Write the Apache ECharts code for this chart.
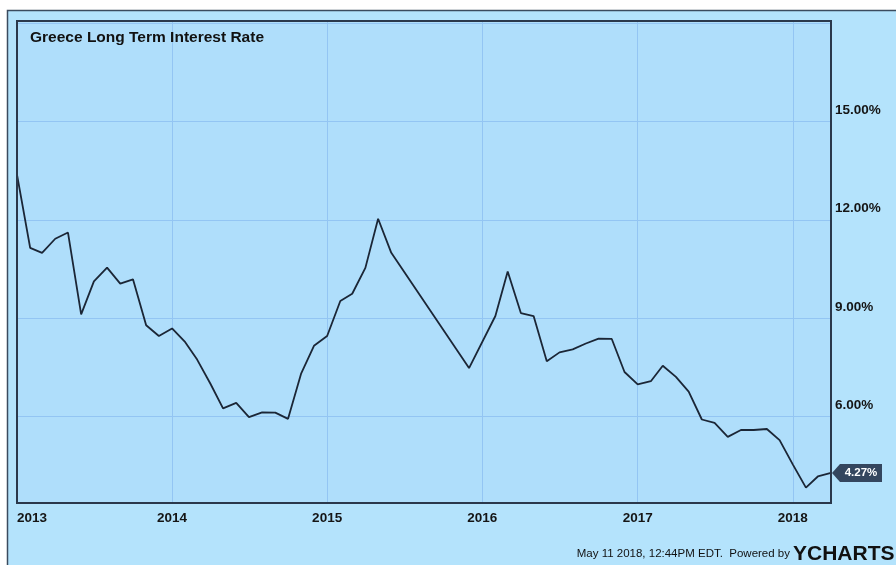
<!DOCTYPE html>
<html>
<head>
<meta charset="utf-8">
<script src="https://cdn.jsdelivr.net/npm/echarts@6/dist/echarts.min.js"></script>
<style>
html,body{margin:0;padding:0;background:#fff;}
#chart{width:896px;height:565px;}
</style>
</head>
<body>
<div id="chart"></div>
<script>
// ---- data ----
const months = [
  '2013-01-01','2013-02-01','2013-03-01','2013-04-01','2013-05-01','2013-06-01','2013-07-01','2013-08-01','2013-09-01','2013-10-01','2013-11-01','2013-12-01',
  '2014-01-01','2014-02-01','2014-03-01','2014-04-01','2014-05-01','2014-06-01','2014-07-01','2014-08-01','2014-09-01','2014-10-01','2014-11-01','2014-12-01',
  '2015-01-01','2015-02-01','2015-03-01','2015-04-01','2015-05-01','2015-06-01','2015-12-01',
  '2016-02-01','2016-03-01','2016-04-01','2016-05-01','2016-06-01','2016-07-01','2016-08-01','2016-09-01','2016-10-01','2016-11-01','2016-12-01',
  '2017-01-01','2017-02-01','2017-03-01','2017-04-01','2017-05-01','2017-06-01','2017-07-01','2017-08-01','2017-09-01','2017-10-01','2017-11-01','2017-12-01',
  '2018-01-01','2018-02-01','2018-03-01','2018-04-01'
];
const rates = [
  13.38, 11.14, 10.99, 11.42, 11.61, 9.11, 10.12, 10.54, 10.05, 10.18, 8.78, 8.45,
  8.68, 8.26, 7.73, 7.00, 6.24, 6.41, 5.97, 6.12, 6.11, 5.92, 7.31, 8.15,
  8.45, 9.52, 9.74, 10.53, 12.03, 10.99, 7.47,
  9.06, 10.42, 9.15, 9.06, 7.68, 7.95, 8.04, 8.22, 8.37, 8.36, 7.35,
  6.97, 7.07, 7.54, 7.20, 6.75, 5.90, 5.80, 5.37, 5.58, 5.58, 5.61, 5.27,
  4.53, 3.82, 4.16, 4.27
];
const yTickLabels = [6, 9, 12, 15];
const xRange = ['2013-01-01', '2018-04-01'];
const yRange = [3.35, 18.07];
const titleText = 'Greece Long Term Interest Rate';
const footerText = 'May 11 2018, 12:44PM EDT.  Powered by';
const brandText = 'YCHARTS';

const seriesData = months.map((m, i) => [m, rates[i]]);
const last = seriesData[seriesData.length - 1];

const chart = echarts.init(document.getElementById('chart'), null, {renderer: 'canvas'});
const FONT = 'Liberation Sans, Arial, sans-serif';

chart.setOption({
  animation: false,
  backgroundColor: '#ffffff',
  title: {
    text: titleText,
    left: 30, top: 30, padding: 0,
    textStyle: {fontFamily: FONT, fontSize: 15.5, fontWeight: 'bold', color: '#111111'}
  },
  graphic: [
    {
      type: 'rect', z: -100, silent: true,
      shape: {x: 7.5, y: 10.5, width: 900, height: 600},
      style: {fill: '#b4e3fc', stroke: '#3b4b5e', lineWidth: 1.5}
    },
    {
      type: 'rect', z: 100, silent: true,
      shape: {x: 17, y: 21, width: 814, height: 482},
      style: {fill: null, stroke: '#2a384b', lineWidth: 2}
    },
    {
      type: 'text', right: 106, top: 548,
      style: {text: footerText, font: '11.5px ' + FONT, fill: '#111111'}
    },
    {
      type: 'text', left: 793, top: 544,
      style: {text: brandText, font: 'bold 21px ' + FONT, fill: '#111111'}
    }
  ],
  grid: {
    left: 17, top: 21, right: 65, bottom: 62,
    show: true,
    backgroundColor: '#afdefb',
    borderColor: '#2a384b',
    borderWidth: 0,
    containLabel: false
  },
  xAxis: {
    type: 'time',
    min: xRange[0], max: xRange[1],
    minInterval: 365 * 24 * 3600 * 1000,
    splitNumber: 5,
    axisLine: {show: false},
    axisTick: {show: false},
    splitLine: {show: true, lineStyle: {color: '#93c5f3', width: 1}},
    axisLabel: {
      fontFamily: FONT, fontSize: 13.5, fontWeight: 'bold', color: '#151515', margin: 8,
      showMinLabel: true,
      alignMinLabel: 'left',
      hideOverlap: false,
      formatter: function (v) {
        const d = new Date(v);
        return (d.getMonth() === 0 && d.getDate() === 1) ? String(d.getFullYear()) : '';
      }
    }
  },
  yAxis: {
    type: 'value',
    position: 'right',
    min: yRange[0], max: yRange[1],
    minInterval: 3, maxInterval: 3,
    axisLine: {show: false},
    axisTick: {show: false},
    splitLine: {show: true, lineStyle: {color: '#93c5f3', width: 1}},
    axisLabel: {
      fontFamily: FONT, fontSize: 13.5, fontWeight: 'bold', color: '#151515', margin: 4,
      verticalAlign: 'bottom', lineHeight: 22,
      showMinLabel: false, showMaxLabel: false,
      formatter: function (v) {
        return yTickLabels.indexOf(Math.round(v * 100) / 100) >= 0 ? v.toFixed(2) + '%' : '';
      }
    }
  },
  series: [{
    type: 'line',
    data: seriesData,
    showSymbol: false,
    symbol: 'none',
    lineStyle: {color: '#1b2636', width: 1.8},
    markPoint: {
      silent: true,
      symbol: 'path://M0,9 L8,0 L50,0 L50,18 L8,18 Z',
      symbolSize: [50, 18],
      symbolKeepAspect: false,
      symbolOffset: [26, 0],
      itemStyle: {color: '#34465e'},
      label: {
        show: true, position: 'inside', offset: [4, 0],
        fontFamily: FONT, fontSize: 11.5, fontWeight: 'bold', color: '#ffffff',
        formatter: function (p) { return p.value.toFixed(2) + '%'; }
      },
      data: [{coord: last, value: last[1]}]
    }
  }]
});
</script>
</body>
</html>
